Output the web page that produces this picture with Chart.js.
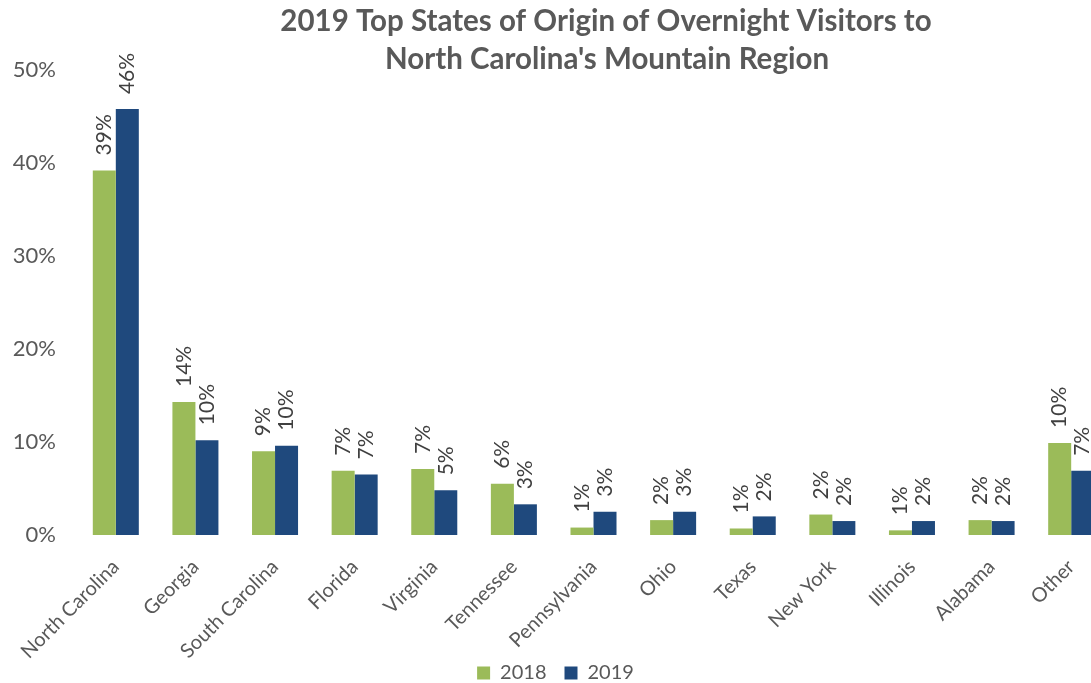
<!DOCTYPE html>
<html>
<head>
<meta charset="utf-8">
<script src="https://cdn.jsdelivr.net/npm/chart.js@4"></script>
<style>
  html, body { margin: 0; padding: 0; background: #fff; overflow: hidden; }
  #wrap { width: 1134px; height: 683px; }
</style>
</head>
<body>
<div id="wrap"><canvas id="diagramm" width="1134" height="683"></canvas></div>
<script>
// Daten (Prozent)
const states = ["North Carolina", "Georgia", "South Carolina", "Florida", "Virginia", "Tennessee",
    "Pennsylvania", "Ohio", "Texas", "New York", "Illinois", "Alabama", "Other"];
const values2018 = [39.2, 14.3, 9.0, 6.9, 7.1, 5.5, 0.8, 1.6, 0.7, 2.2, 0.5, 1.6, 9.9];
const values2019 = [45.8, 10.2, 9.6, 6.5, 4.8, 3.3, 2.5, 2.5, 2.0, 1.5, 1.5, 1.5, 6.9];
const seriesNames = ["2018", "2019"];
const titleLines = ["2019 Top States of Origin of Overnight Visitors to", "North Carolina's Mountain Region"];

const grau = '#595959';
const schrift = "Lato, 'Open Sans', sans-serif";

// Titel frei positioniert (wie im Original leicht nach rechts versetzt)
const titelPlugin = {
    id: 'titel',
    afterDraw(chart) {
        const ctx = chart.ctx;
        ctx.save();
        ctx.font = "bold 29.5px " + schrift;
        ctx.fillStyle = grau;
        ctx.textAlign = 'center';
        ctx.textBaseline = 'middle';
        ctx.fillText(titleLines[0], 606, 21);
        ctx.fillText(titleLines[1], 607, 59);
        ctx.restore();
    }
};

// x-Beschriftung nicht an der (verkleinerten) Achsenbox abschneiden
const achsenPlugin = {
    id: 'achse',
    afterLayout(chart) {
        chart.scales.x.bottom = chart.height;
    }
};

// Datenbeschriftung senkrecht über den Balken
const labelPlugin = {
    id: 'werte',
    afterDatasetsDraw(chart) {
        const ctx = chart.ctx;
        ctx.save();
        ctx.font = "21px " + schrift;
        ctx.fillStyle = '#404040';
        ctx.textAlign = 'left';
        ctx.textBaseline = 'middle';
        chart.data.datasets.forEach((ds, i) => {
            chart.getDatasetMeta(i).data.forEach((bar, j) => {
                ctx.save();
                ctx.translate(bar.x, bar.y - 15);
                ctx.rotate(-Math.PI / 2);
                ctx.fillText(Math.round(ds.data[j]) + '%', 0, 0);
                ctx.restore();
            });
        });
        ctx.restore();
    }
};

let MyChart = document.getElementById('diagramm').getContext('2d');
new Chart(MyChart, {
    type: 'bar',
    data: {
        labels: states,
        datasets: [
            { label: seriesNames[0], data: values2018, backgroundColor: '#9BBB59' },
            { label: seriesNames[1], data: values2019, backgroundColor: '#1F497D' }
        ]
    },
    options: {
        responsive: false,
        animation: false,
        categoryPercentage: 0.578,
        barPercentage: 1.0,
        layout: { padding: { top: 70, right: 23, left: 0, bottom: -10 } },
        scales: {
            y: {
                min: 0,
                max: 50,
                grid: { display: false },
                border: { display: false },
                afterFit(scale) { scale.width = 76; },
                ticks: {
                    stepSize: 10,
                    padding: 12,
                    color: grau,
                    font: { size: 22, family: schrift },
                    callback: v => v + '%'
                }
            },
            x: {
                grid: { display: false },
                border: { display: false },
                // Achsenbeschriftung darf in den Legendenbereich ragen
                afterFit(scale) {
                    scale.height = 110;
                    scale.paddingLeft = 0;
                    scale.paddingRight = 0;
                },
                ticks: {
                    autoSkip: false,
                    minRotation: 45,
                    maxRotation: 45,
                    padding: 12,
                    color: grau,
                    font: { size: 20, family: schrift }
                }
            }
        },
        plugins: {
            title: { display: false },
            tooltip: { enabled: false },
            legend: {
                position: 'bottom',
                labels: {
                    boxWidth: 13,
                    boxHeight: 13,
                    padding: 18,
                    color: grau,
                    font: { size: 20, family: schrift }
                }
            }
        }
    },
    plugins: [titelPlugin, achsenPlugin, labelPlugin]
});
</script>
</body>
</html>
